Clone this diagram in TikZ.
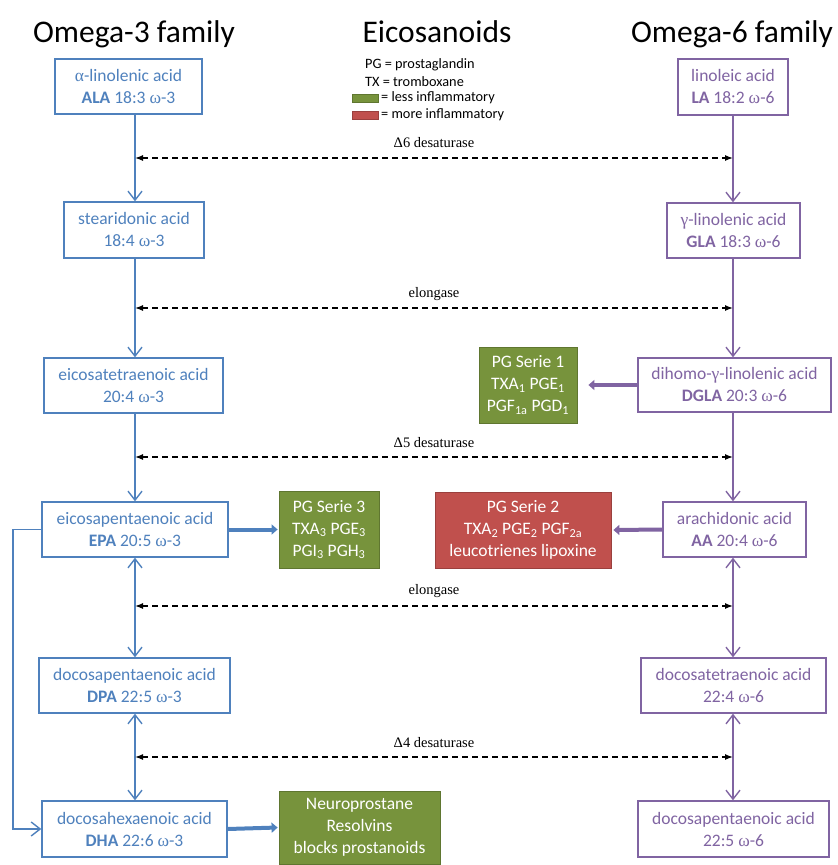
\documentclass[tikz,border=0pt]{standalone}
\usepackage{fontspec}
\setmainfont{Carlito}
\newfontfamily\grkfont{Liberation Serif}
\newfontfamily\lblfont{Liberation Serif}
\usetikzlibrary{arrows.meta}
\definecolor{cblue}{HTML}{4F81BD}
\definecolor{cpurple}{HTML}{8064A2}
\definecolor{cgreen}{HTML}{77933C}
\definecolor{cred}{HTML}{C0504D}
\newcommand\grk[1]{{\grkfont #1}}
\begin{document}
\begin{tikzpicture}[x=1pt,y=-1pt,
  box/.style={draw, line width=1.4pt, fill=white, align=center, inner sep=0pt,
    font=\fontsize{17.5}{22}\selectfont},
  om3/.style={box, draw=cblue, text=cblue},
  om6/.style={box, draw=cpurple, text=cpurple},
  pgbox/.style={align=center, inner sep=0pt, text=white, line width=0.8pt,
    font=\fontsize{17.5}{22}\selectfont},
  greenbox/.style={pgbox, fill=cgreen, draw=cgreen!80!black},
  redbox/.style={pgbox, fill=cred, draw=cred!80!black},
  title/.style={font=\fontsize{31.5}{34}\selectfont, anchor=base},
  legtext/.style={font=\fontsize{14.3}{17}\selectfont, anchor=west, inner sep=0pt},
  enzlabel/.style={font=\lblfont\fontsize{14.5}{17}\selectfont, inner sep=0pt},
  c3/.style={draw=cblue, line width=1.4pt},
  c6/.style={draw=cpurple, line width=1.4pt},
  onehead/.style={-{Straight Barb[length=9pt,width=14pt]}},
  twohead/.style={{Straight Barb[length=9pt,width=14pt]}-{Straight Barb[length=9pt,width=14pt]}},
  thickarrow/.style={line width=4pt, -{Triangle[length=6pt,width=10pt]}},
  enzarrow/.style={draw=black, line width=1.3pt, dash pattern=on 6pt off 4pt,
    {Latex[length=8pt,width=6pt]}-{Latex[length=8pt,width=6pt]}}
]
\useasboundingbox (0,0) rectangle (838,865);

% titles
\node[title] (t3) at (134,42) {Omega-3 family};
\node[title] (te) at (437,42) {Eicosanoids};
\node[title] (t6) at (732,42) {Omega-6 family};

% legend
\node[legtext] (lg1) at (365,65) {PG = prostaglandin};
\node[legtext] (lg2) at (365,82) {TX = tromboxane};
\node[fill=cgreen, draw=cgreen!80!black, line width=0.6pt, minimum width=26pt, minimum height=8.5pt, inner sep=0pt] (sw1) at (365.5,98.5) {};
\node[legtext] (lg3) at (381,98) {= less inflammatory};
\node[fill=cred, draw=cred!80!black, line width=0.6pt, minimum width=26pt, minimum height=8.5pt, inner sep=0pt] (sw2) at (365.5,115.5) {};
\node[legtext] (lg4) at (381,115) {= more inflammatory};

% column guide coordinates
\coordinate (L) at (135,0);
\coordinate (R) at (733,0);
\coordinate (B) at (13,0);

% omega-3 column
\node[om3, minimum width=147pt, minimum height=55pt] (ala) at (128.5,86.5)
  {\grk{α}-linolenic acid\\\textbf{ALA} 18:3 \grk{ω}-3};
\node[om3, minimum width=140pt, minimum height=56pt] (sda) at (134,230)
  {stearidonic acid\\18:4 \grk{ω}-3};
\node[om3, minimum width=179pt, minimum height=55pt] (eta) at (133.5,385.5)
  {eicosatetraenoic acid\\20:4 \grk{ω}-3};
\node[om3, minimum width=186pt, minimum height=55pt] (epa) at (135,529.5)
  {eicosapentaenoic acid\\\textbf{EPA} 20:5 \grk{ω}-3};
\node[om3, minimum width=191pt, minimum height=55pt] (dpa) at (134.5,685.5)
  {docosapentaenoic acid\\\textbf{DPA} 22:5 \grk{ω}-3};
\node[om3, minimum width=185pt, minimum height=56pt] (dha) at (134.5,829)
  {docosahexaenoic acid\\\textbf{DHA} 22:6 \grk{ω}-3};

% omega-6 column
\node[om6, minimum width=110pt, minimum height=56pt] (la) at (733,87)
  {linoleic acid\\\textbf{LA} 18:2 \grk{ω}-6};
\node[om6, minimum width=133pt, minimum height=55pt] (gla) at (733.5,230.5)
  {\grk{γ}-linolenic acid\\\textbf{GLA} 18:3 \grk{ω}-6};
\node[om6, minimum width=193pt, minimum height=54pt] (dgla) at (734.5,385)
  {dihomo-\grk{γ}-linolenic acid\\\textbf{DGLA} 20:3 \grk{ω}-6};
\node[om6, minimum width=143pt, minimum height=55pt] (aa) at (734.5,529.5)
  {arachidonic acid\\\textbf{AA} 20:4 \grk{ω}-6};
\node[om6, minimum width=185pt, minimum height=55pt] (dta) at (733.5,685.5)
  {docosatetraenoic acid\\22:4 \grk{ω}-6};
\node[om6, minimum width=191pt, minimum height=56pt] (dpa6) at (733.5,829)
  {docosapentaenoic acid\\22:5 \grk{ω}-6};

% eicosanoid boxes
\node[greenbox, minimum width=98pt, minimum height=76pt] (pg1) at (528,385)
  {PG Serie 1\\TXA\textsubscript{1} PGE\textsubscript{1}\\PGF\textsubscript{1a} PGD\textsubscript{1}};
\node[greenbox, minimum width=100pt, minimum height=77pt] (pg3) at (329,529.5)
  {PG Serie 3\\TXA\textsubscript{3} PGE\textsubscript{3}\\PGI\textsubscript{3} PGH\textsubscript{3}};
\node[redbox, minimum width=176pt, minimum height=76pt] (pg2) at (523,530)
  {PG Serie 2\\TXA\textsubscript{2} PGE\textsubscript{2} PGF\textsubscript{2a}\\leucotrienes lipoxine};
\node[greenbox, minimum width=161pt, minimum height=73pt] (neuro) at (359.5,827.5)
  {Neuroprostane\\Resolvins\\blocks prostanoids};

% omega-3 connectors
\draw[c3, onehead] (ala.south -| L) -- (sda.north -| L);
\draw[c3, onehead] (sda.south -| L) -- (eta.north -| L);
\draw[c3, onehead] (eta.south -| L) -- (epa.north -| L);
\draw[c3, twohead] (epa.south -| L) -- (dpa.north -| L);
\draw[c3, twohead] (dpa.south -| L) -- (dha.north -| L);
\draw[c3, line join=miter, onehead] (epa.west) -- (epa.west -| B) -- (dha.west -| B) -- (dha.west);

% omega-6 connectors
\draw[c6, onehead] (la.south -| R) -- (gla.north -| R);
\draw[c6, onehead] (gla.south -| R) -- (dgla.north -| R);
\draw[c6, onehead] (dgla.south -| R) -- (aa.north -| R);
\draw[c6, twohead] (aa.south -| R) -- (dta.north -| R);
\draw[c6, twohead] (dta.south -| R) -- (dpa6.north -| R);

% thick arrows to eicosanoids
\draw[cblue, thickarrow] (epa.east) -- ([xshift=-1pt]pg3.west);
\draw[cblue, thickarrow] (dha.east) -- ([xshift=-1pt]neuro.west);
\draw[cpurple, thickarrow] (dgla.west) -- ([xshift=11pt]pg1.east);
\draw[cpurple, thickarrow] (aa.west) -- ([xshift=2pt]pg2.east);

% enzyme steps
\coordinate (e1l) at (135,158); \coordinate (e1r) at (733,158);
\coordinate (e2l) at (135,308); \coordinate (e2r) at (733,308);
\coordinate (e3l) at (135,457); \coordinate (e3r) at (733,457);
\coordinate (e4l) at (135,606); \coordinate (e4r) at (733,606);
\coordinate (e5l) at (135,757); \coordinate (e5r) at (733,757);
\draw[enzarrow] (e1l) -- (e1r);
\draw[enzarrow] (e2l) -- (e2r);
\draw[enzarrow] (e3l) -- (e3r);
\draw[enzarrow] (e4l) -- (e4r);
\draw[enzarrow] (e5l) -- (e5r);
\node[enzlabel] (l1) at (434,143) {Δ6 desaturase};
\node[enzlabel] (l2) at (434,294) {elongase};
\node[enzlabel] (l3) at (434,443) {Δ5 desaturase};
\node[enzlabel] (l4) at (434,591) {elongase};
\node[enzlabel] (l5) at (434,743) {Δ4 desaturase};
\end{tikzpicture}
\end{document}
